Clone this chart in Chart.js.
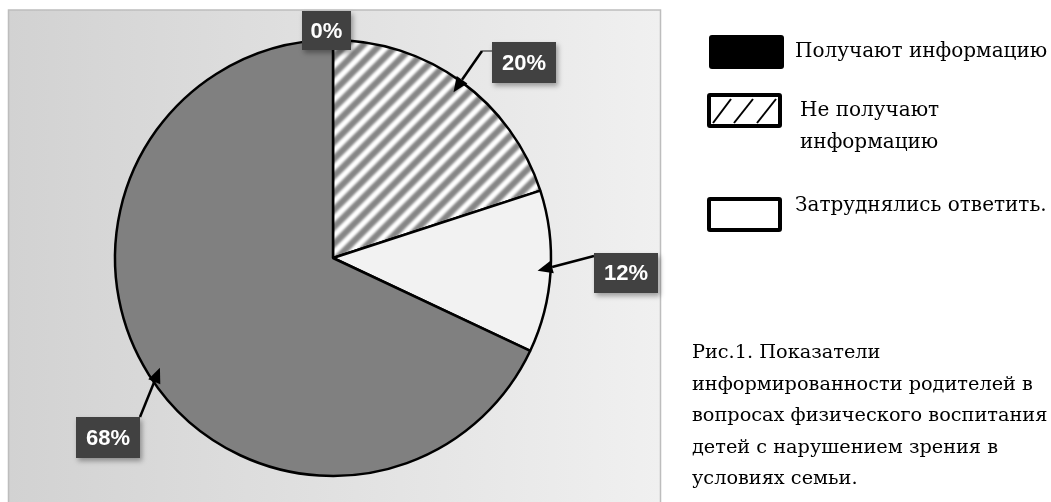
<!DOCTYPE html>
<html>
<head>
<meta charset="utf-8">
<script src="https://cdn.jsdelivr.net/npm/chart.js@4.4.0/dist/chart.umd.min.js"></script>
<style>
  html,body{margin:0;padding:0;background:#fff;width:1051px;height:502px;overflow:hidden;}
  #c{position:absolute;left:0;top:0;}
  .box{position:absolute;box-sizing:border-box;border-radius:3px;}
  .t{position:absolute;font-family:"DejaVu Serif",serif;font-size:20px;color:#000;white-space:nowrap;}
  #cap{position:absolute;left:692px;top:336px;font-family:"DejaVu Serif",serif;font-size:19.3px;line-height:31.5px;color:#000;white-space:nowrap;}
</style>
</head>
<body>
<canvas id="c" width="1051" height="502"></canvas>

<div class="box" style="left:709px;top:35px;width:75px;height:34px;background:#000;"></div>
<div class="t" style="left:795px;top:38px;">Получают информацию</div>

<div class="box" style="left:707px;top:93px;width:75px;height:35px;border:4px solid #000;background:#fff;">
  <svg width="67" height="27" style="position:absolute;left:0;top:0">
    <line x1="2" y1="26" x2="20" y2="2" stroke="#000" stroke-width="2"/>
    <line x1="23" y1="26" x2="42" y2="2" stroke="#000" stroke-width="2"/>
    <line x1="46" y1="26" x2="65" y2="2" stroke="#000" stroke-width="2"/>
  </svg>
</div>
<div class="t" style="left:800px;top:93px;line-height:32px;">Не получают<br>информацию</div>

<div class="box" style="left:707px;top:197px;width:75px;height:35px;border:4px solid #000;background:#fff;"></div>
<div class="t" style="left:795px;top:192px;">Затруднялись ответить.</div>

<div id="cap">Рис.1. Показатели<br>информированности родителей в<br>вопросах физического воспитания<br>детей с нарушением зрения в<br>условиях семьи.</div>

<script>
// ---- data ----
const categories = ['Получают информацию', 'Не получают информацию', 'Затруднялись ответить', 'Другое'];
const values = [0, 20, 12, 68];

// ---- styles ----
function hatchPattern(){
  const s = 17;
  const p = document.createElement('canvas');
  p.width = s; p.height = s;
  const g = p.getContext('2d');
  g.fillStyle = '#ffffff'; g.fillRect(0,0,s,s);
  g.strokeStyle = '#858585'; g.lineWidth = 6.5; g.lineCap = 'square';
  g.filter = 'blur(1px)';
  for (let k=-1;k<=1;k++){
    g.beginPath(); g.moveTo(k*s - 3, s + 3); g.lineTo(k*s + s + 3, -3); g.stroke();
  }
  return document.getElementById('c').getContext('2d').createPattern(p,'repeat');
}
const sliceColors = ['#000000', hatchPattern(), '#f2f2f2', '#808080'];

// label box layout (styling only)
const labelLayout = [
  {x:302, y:11, w:49, h:39, from:null},
  {x:492, y:42, w:64, h:41, from:[[492,51],[482,51]]},
  {x:594, y:253, w:64, h:40, from:[[594,256]]},
  {x:76, y:417, w:64, h:41, from:[[140,417]]}
];

const bgPlugin = {
  id:'bg',
  beforeDraw(chart){
    const ctx = chart.ctx;
    ctx.save();
    const g = ctx.createLinearGradient(8,0,661,0);
    g.addColorStop(0,'#d2d2d2');
    g.addColorStop(1,'#f0f0f0');
    ctx.fillStyle = g;
    ctx.fillRect(8,10,653,500);
    ctx.strokeStyle = '#bdbdbd'; ctx.lineWidth = 1.5;
    ctx.strokeRect(8.5,10,652,500);
    ctx.restore();
  }
};

const labelPlugin = {
  id:'plabels',
  afterDraw(chart){
    const ctx = chart.ctx;
    const meta = chart.getDatasetMeta(0);
    meta.data.forEach((arc,i)=>{
      const L = labelLayout[i];
      const p = arc.getProps(['x','y','startAngle','endAngle','outerRadius'], true);
      const mid = (p.startAngle + p.endAngle)/2;
      const r = p.outerRadius - 13;
      const tip = [p.x + Math.cos(mid)*r, p.y + Math.sin(mid)*r];
      ctx.save();
      if (L.from){
        const pts = L.from;
        if (pts.length > 1){
          ctx.strokeStyle = '#7f7f7f'; ctx.lineWidth = 2;
          ctx.beginPath(); ctx.moveTo(pts[0][0],pts[0][1]); ctx.lineTo(pts[1][0],pts[1][1]); ctx.stroke();
        }
        const s = pts[pts.length-1];
        const ang = Math.atan2(tip[1]-s[1], tip[0]-s[0]);
        const hl = 15, hw = 6.5;
        const bx = tip[0] - Math.cos(ang)*hl, by = tip[1] - Math.sin(ang)*hl;
        ctx.strokeStyle = '#000'; ctx.lineWidth = 2.5;
        ctx.beginPath(); ctx.moveTo(s[0],s[1]); ctx.lineTo(bx,by); ctx.stroke();
        ctx.fillStyle = '#000';
        ctx.beginPath();
        ctx.moveTo(tip[0],tip[1]);
        ctx.lineTo(bx + Math.sin(ang)*hw, by - Math.cos(ang)*hw);
        ctx.lineTo(bx - Math.sin(ang)*hw, by + Math.cos(ang)*hw);
        ctx.closePath(); ctx.fill();
      }
      ctx.shadowColor = 'rgba(0,0,0,0.35)';
      ctx.shadowBlur = 5; ctx.shadowOffsetX = 2; ctx.shadowOffsetY = 3;
      ctx.fillStyle = '#414141';
      ctx.fillRect(L.x, L.y, L.w, L.h);
      ctx.shadowColor = 'transparent';
      ctx.fillStyle = '#ffffff';
      ctx.font = 'bold 22px "Liberation Sans", Arial, sans-serif';
      ctx.textAlign = 'center'; ctx.textBaseline = 'middle';
      ctx.fillText(Math.round(values[i]) + '%', L.x + L.w/2, L.y + L.h/2 + 1);
      ctx.restore();
    });
  }
};

new Chart(document.getElementById('c'), {
  type:'pie',
  data:{
    labels: categories,
    datasets:[{
      data: values,
      backgroundColor: sliceColors,
      borderColor:'#000',
      borderWidth:2.5
    }]
  },
  options:{
    responsive:false,
    animation:false,
    radius:218,
    layout:{padding:{left:0,right:385,top:14,bottom:0}},
    plugins:{legend:{display:false}, tooltip:{enabled:false}}
  },
  plugins:[bgPlugin,labelPlugin]
});
</script>
</body>
</html>
